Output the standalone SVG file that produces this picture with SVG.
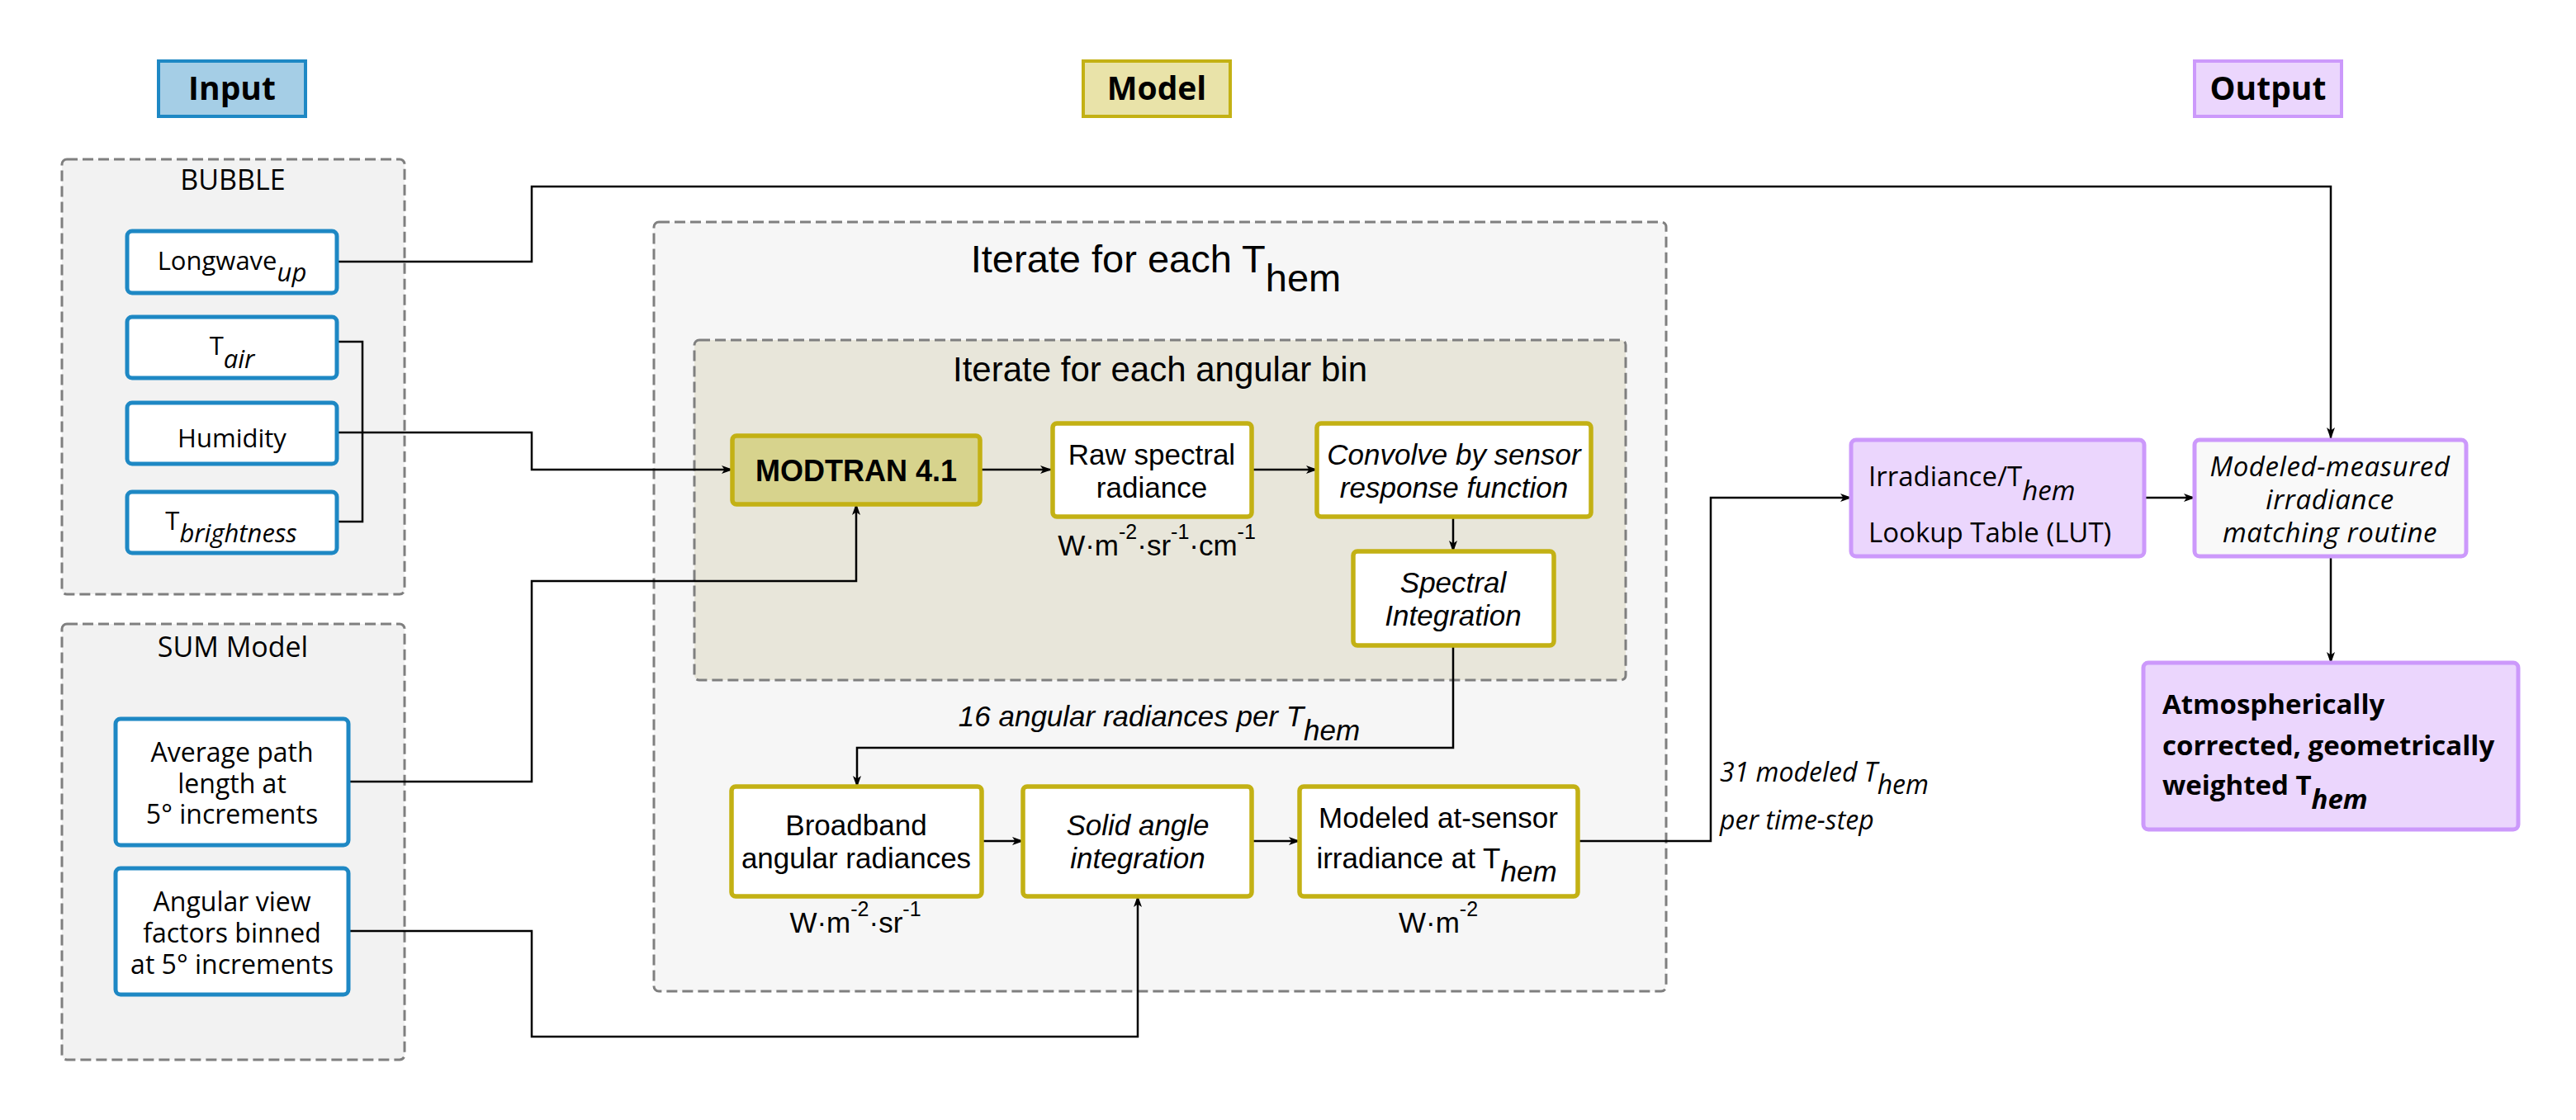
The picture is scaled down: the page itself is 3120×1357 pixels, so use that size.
<svg xmlns="http://www.w3.org/2000/svg" width="3120" height="1357" viewBox="0 0 3120 1357">
<defs>
<style>
.dash{stroke:#7f7f7f;stroke-width:3;stroke-dasharray:13 6}
.blue{fill:#fff;stroke:#1e88c4;stroke-width:5}
.gold{fill:#fff;stroke:#c3b114;stroke-width:5.5}
.purp{fill:#ebd6fd;stroke:#cc99fb;stroke-width:5}
.seg{font-family:"Open Sans","Noto Sans",sans-serif;font-size:31px;fill:#000}
.cal{font-family:"Liberation Sans",Arial,sans-serif;font-size:35px;fill:#000}
.hdr{font-family:"Open Sans","Noto Sans",sans-serif;font-size:39px;font-weight:bold;fill:#000}
.it{font-style:italic}
.conn{fill:none;stroke:#000;stroke-width:2.5}
</style>
<marker id="ah" markerUnits="userSpaceOnUse" viewBox="0 0 14 10" markerWidth="14" markerHeight="10" refX="13" refY="5" orient="auto">
<path d="M0,0 L14,5 L0,10 L3.5,5 z" fill="#000"/>
</marker>
</defs>
<rect width="3120" height="1357" fill="#fff"/>

<!-- headers -->
<g id="hdr-input"><rect x="192" y="74" width="178" height="67" fill="#a5cee6" stroke="#1e88c4" stroke-width="4"/><text x="281" y="121" text-anchor="middle" class="hdr">Input</text></g>
<g id="hdr-model"><rect x="1312" y="74" width="178" height="67" fill="#e9e3a9" stroke="#c3b114" stroke-width="4"/><text x="1401" y="121" text-anchor="middle" class="hdr">Model</text></g>
<g id="hdr-output"><rect x="2658" y="74" width="178" height="67" fill="#ebd6fd" stroke="#cc99fb" stroke-width="4"/><text x="2747" y="121" text-anchor="middle" class="hdr">Output</text></g>

<!-- containers -->
<g id="bubble"><rect x="75" y="193" width="415" height="527" rx="6" fill="#f2f2f2" class="dash"/><text x="282" y="230" text-anchor="middle" class="seg" style="font-size:34px">BUBBLE</text></g>
<g id="sum"><rect x="75" y="756" width="415" height="528" rx="6" fill="#f2f2f2" class="dash"/><text x="282" y="796" text-anchor="middle" class="seg" style="font-size:34px">SUM Model</text></g>
<g id="iter-them"><rect x="792" y="269" width="1226" height="932" rx="6" fill="#f6f6f6" class="dash"/><text x="1400" y="330" text-anchor="middle" class="cal" style="font-size:47px">Iterate for each T<tspan dy="23">hem</tspan></text></g>
<g id="iter-bin"><rect x="841" y="412" width="1128" height="412" rx="6" fill="#e8e6da" class="dash"/><text x="1405" y="462" text-anchor="middle" class="cal" style="font-size:42px">Iterate for each angular bin</text></g>

<!-- connectors -->
<g id="connectors">
<path class="conn" d="M407,317 H644 V226 H2823 V531" marker-end="url(#ah)"/>
<path class="conn" d="M407,414 H439 V632 H407"/>
<path class="conn" d="M407,524 H644 V569 H887" stroke-width="3.5" marker-end="url(#ah)"/>
<path class="conn" d="M422,947 H644 V704 H1037 V611" marker-end="url(#ah)"/>
<path class="conn" d="M422,1128 H644 V1256 H1378 V1086" marker-end="url(#ah)"/>
<path class="conn" d="M1187,569 H1273" stroke-width="3" marker-end="url(#ah)"/>
<path class="conn" d="M1516,569 H1595" marker-end="url(#ah)"/>
<path class="conn" d="M1760,626 V668" marker-end="url(#ah)"/>
<path class="conn" d="M1760,782 V906 H1038 V953" marker-end="url(#ah)"/>
<path class="conn" d="M1189,1019 H1239" stroke-width="3" marker-end="url(#ah)"/>
<path class="conn" d="M1516,1019 H1574" stroke-width="3" marker-end="url(#ah)"/>
<path class="conn" d="M1911,1019 H2072 V603 H2242" marker-end="url(#ah)"/>
<path class="conn" d="M2597,603 H2658" marker-end="url(#ah)"/>
<path class="conn" d="M2823,674 V803" marker-end="url(#ah)"/>
</g>

<!-- input nodes -->
<g id="longwave"><rect x="154" y="280" width="254" height="75" rx="6" class="blue"/><text x="281" y="327" text-anchor="middle" class="seg">Longwave<tspan class="it" dy="14">up</tspan></text></g>
<g id="tair"><rect x="154" y="384" width="254" height="74" rx="6" class="blue"/><text x="281" y="430" text-anchor="middle" class="seg">T<tspan class="it" dy="16">air</tspan></text></g>
<g id="humidity"><rect x="154" y="488" width="254" height="74" rx="6" class="blue"/><text x="281" y="542" text-anchor="middle" class="seg">Humidity</text></g>
<g id="tbright"><rect x="154" y="596" width="254" height="74" rx="6" class="blue"/><text x="280" y="642" text-anchor="middle" class="seg">T<tspan class="it" dy="15">brightness</tspan></text></g>
<g id="avgpath"><rect x="140" y="871" width="282" height="153" rx="6" class="blue"/><text x="281" y="923" text-anchor="middle" class="seg" style="font-size:32px">Average path</text><text x="281" y="961" text-anchor="middle" class="seg" style="font-size:32px">length at</text><text x="281" y="998" text-anchor="middle" class="seg" style="font-size:32px">5° increments</text></g>
<g id="viewfac"><rect x="140" y="1052" width="282" height="153" rx="6" class="blue"/><text x="281" y="1104" text-anchor="middle" class="seg" style="font-size:32px">Angular view</text><text x="281" y="1142" text-anchor="middle" class="seg" style="font-size:32px">factors binned</text><text x="281" y="1180" text-anchor="middle" class="seg" style="font-size:32px">at 5° increments</text></g>

<!-- model nodes -->
<g id="modtran"><rect x="887" y="528" width="300" height="83" rx="5" fill="#d7d38d" stroke="#c3b114" stroke-width="5.5"/><text x="1037" y="583" text-anchor="middle" class="cal" font-weight="bold" style="font-size:36px">MODTRAN 4.1</text></g>
<g id="raw"><rect x="1275" y="513" width="241" height="113" rx="5" class="gold"/><text x="1395" y="563" text-anchor="middle" class="cal">Raw spectral</text><text x="1395" y="603" text-anchor="middle" class="cal">radiance</text>
<text x="1401" y="673" text-anchor="middle" class="cal">W·m<tspan dy="-20" font-size="25">-2</tspan><tspan dy="20">·sr</tspan><tspan dy="-20" font-size="25">-1</tspan><tspan dy="20">·cm</tspan><tspan dy="-20" font-size="25">-1</tspan></text></g>
<g id="convolve"><rect x="1595" y="513" width="332" height="113" rx="5" class="gold"/><text x="1761" y="563" text-anchor="middle" class="cal it">Convolve by sensor</text><text x="1761" y="603" text-anchor="middle" class="cal it">response function</text></g>
<g id="specint"><rect x="1639" y="668" width="243" height="114" rx="5" class="gold"/><text x="1760" y="718" text-anchor="middle" class="cal it">Spectral</text><text x="1760" y="758" text-anchor="middle" class="cal it">Integration</text></g>
<text x="1404" y="880" text-anchor="middle" class="cal it">16 angular radiances per T<tspan dy="17">hem</tspan></text>
<g id="broadband"><rect x="886" y="953" width="303" height="133" rx="5" class="gold"/><text x="1037" y="1012" text-anchor="middle" class="cal">Broadband</text><text x="1037" y="1052" text-anchor="middle" class="cal">angular radiances</text>
<text x="1036" y="1130" text-anchor="middle" class="cal">W·m<tspan dy="-20" font-size="25">-2</tspan><tspan dy="20">·sr</tspan><tspan dy="-20" font-size="25">-1</tspan></text></g>
<g id="solid"><rect x="1239" y="953" width="277" height="133" rx="5" class="gold"/><text x="1378" y="1012" text-anchor="middle" class="cal it">Solid angle</text><text x="1378" y="1052" text-anchor="middle" class="cal it">integration</text></g>
<g id="modeled"><rect x="1574" y="953" width="337" height="133" rx="5" class="gold"/><text x="1742" y="1003" text-anchor="middle" class="cal">Modeled at-sensor</text><text x="1740" y="1052" text-anchor="middle" class="cal">irradiance at T<tspan class="it" dy="16">hem</tspan></text>
<text x="1742" y="1130" text-anchor="middle" class="cal">W·m<tspan dy="-20" font-size="25">-2</tspan></text></g>

<!-- output side -->
<g id="lbl31"><text x="2083" y="947" class="seg it" style="font-size:32px">31 modeled T<tspan dy="15">hem</tspan></text><text x="2083" y="1005" class="seg it" style="font-size:32px">per time-step</text></g>
<g id="lut"><rect x="2242" y="533" width="355" height="141" rx="6" class="purp"/><text x="2263" y="589" class="seg" style="font-size:33px">Irradiance/T<tspan class="it" dy="17">hem</tspan></text><text x="2263" y="657" class="seg" style="font-size:33px">Lookup Table (LUT)</text></g>
<g id="matching"><rect x="2658" y="533" width="329" height="141" rx="6" fill="#f9f9f9" stroke="#cc99fb" stroke-width="5"/><text x="2822" y="577" text-anchor="middle" class="seg it" style="font-size:33px;letter-spacing:0.6px">Modeled-measured</text><text x="2822" y="617" text-anchor="middle" class="seg it" style="font-size:33px;letter-spacing:0.6px">irradiance</text><text x="2822" y="657" text-anchor="middle" class="seg it" style="font-size:33px;letter-spacing:0.6px">matching routine</text></g>
<g id="result"><rect x="2596" y="803" width="454" height="202" rx="6" class="purp"/><text x="2619" y="865" class="seg" font-weight="bold" style="font-size:33px">Atmospherically</text><text x="2619" y="915" class="seg" font-weight="bold" style="font-size:33px">corrected, geometrically</text><text x="2619" y="963" class="seg" font-weight="bold" style="font-size:33px">weighted T<tspan class="it" dy="17">hem</tspan></text></g>
</svg>
